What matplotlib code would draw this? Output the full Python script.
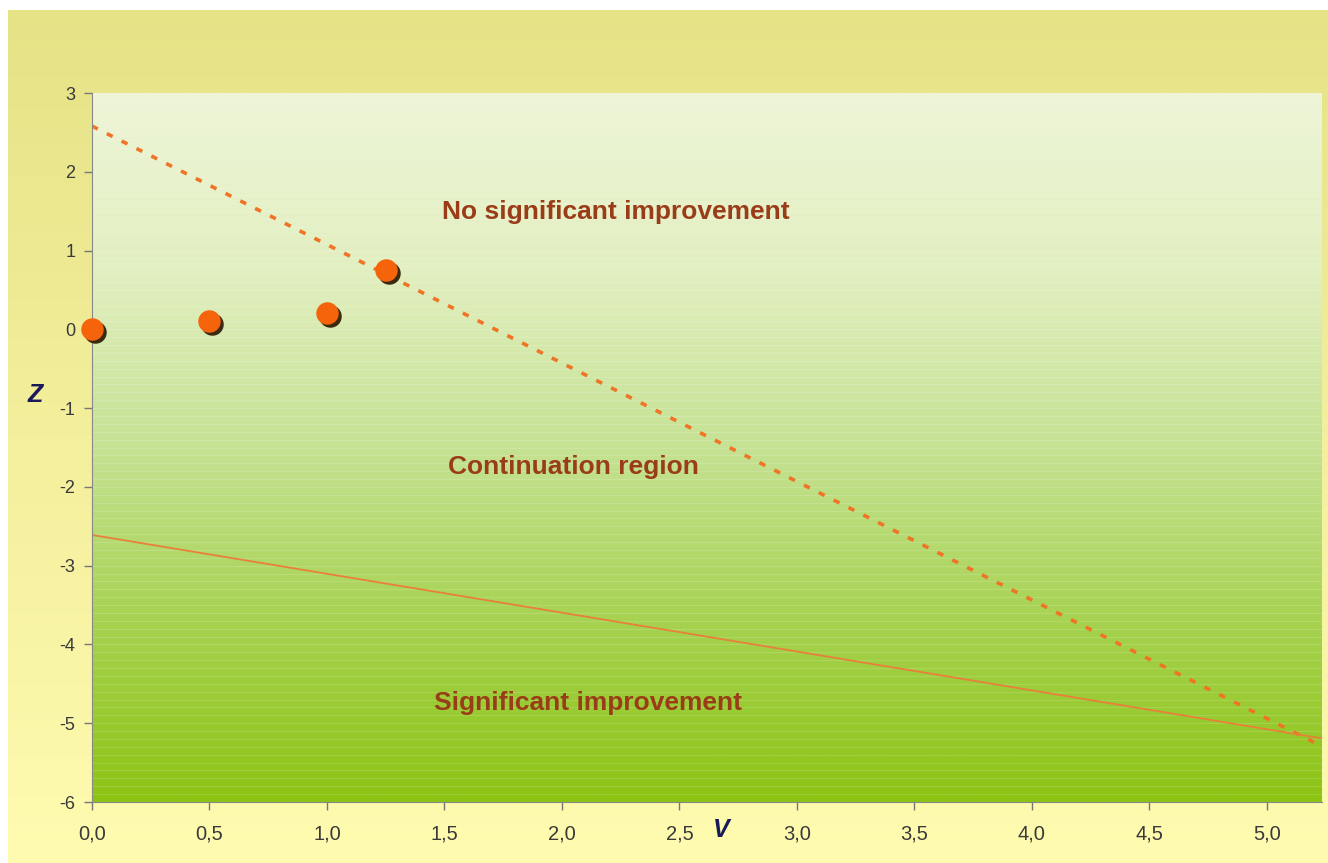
import numpy as np
import matplotlib.pyplot as plt
import matplotlib.transforms as mtransforms
from matplotlib.colors import LinearSegmentedColormap

# observed points
v_obs = [0.0, 0.5, 1.0, 1.25]
z_obs = [0.0, 0.11, 0.21, 0.75]

# upper boundary (dashed) and lower boundary (solid)
v_upper = [0.0, 5.22]
z_upper = [2.58, -5.27]
v_lower = [0.0, 5.23]
z_lower = [-2.61, -5.19]

x_ticks = [0.0, 0.5, 1.0, 1.5, 2.0, 2.5, 3.0, 3.5, 4.0, 4.5, 5.0]
y_ticks = [3, 2, 1, 0, -1, -2, -3, -4, -5, -6]

regions = ["No significant improvement", "Continuation region", "Significant improvement"]
region_v = [2.23, 2.05, 2.11]
region_z = [1.49, -1.75, -4.74]

plt.rcParams['font.family'] = ['Liberation Sans', 'DejaVu Sans']
plt.rcParams['axes.unicode_minus'] = False

fig = plt.figure(figsize=(13.28, 8.63), dpi=100)
fig.patch.set_facecolor('white')

# yellow backdrop for the whole slide
bg = fig.add_axes([8 / 1328, 0, 1, 1 - 10 / 863], zorder=-2)
bg_cmap = LinearSegmentedColormap.from_list('bg', ['#e6e286', '#f3ef9c', '#fffbb0'])
bg.imshow(np.linspace(0, 1, 256).reshape(-1, 1), aspect='auto', cmap=bg_cmap,
          extent=[0, 1, 0, 1], origin='upper')
bg.axis('off')

ax = fig.add_axes([92 / 1328, 1 - 802 / 863, (1322 - 92) / 1328, (802 - 93) / 863])
ax.set_xlim(0, 5.235)
ax.set_ylim(-6, 3)

# green gradient plot area with faint stripes
grad = np.linspace(0, 1, 400).reshape(-1, 1)
plot_cmap = LinearSegmentedColormap.from_list(
    'plot', [(0, '#eef5d8'), (0.25, '#e2efc0'), (0.5, '#c6e294'), (0.75, '#a6d250'), (1, '#8cc414')])
ax.imshow(grad, aspect='auto', cmap=plot_cmap, extent=[0, 5.235, -6, 3],
          origin='upper', zorder=0)
for yy in np.arange(-6, 3, 0.1):
    ax.axhline(yy, color='white', lw=0.6, alpha=0.18, zorder=0.5)

ax.plot(v_upper, z_upper, color='#f07426', lw=2.6, linestyle=(0, (1.8, 2.8)), zorder=2)
ax.plot(v_lower, z_lower, color='#e8803a', lw=1.3, zorder=2)

shadow = ax.transData + mtransforms.ScaledTranslation(3 / 100, -3 / 100, fig.dpi_scale_trans)
ax.scatter(v_obs, z_obs, s=230, color='#3a2a12', transform=shadow, zorder=3, clip_on=False)
ax.scatter(v_obs, z_obs, s=230, color='#f5640a', zorder=4, clip_on=False)

for txt, xv, zv in zip(regions, region_v, region_z):
    ax.text(xv, zv, txt, color='#9a3c18', fontsize=19, fontweight='bold',
            ha='center', va='center', zorder=5)

ax.set_xticks(x_ticks)
ax.set_xticklabels([f"{t:.1f}".replace('.', ',') for t in x_ticks])
ax.set_yticks(y_ticks)
ax.tick_params(colors='#777777', labelcolor='#3a3a3a', length=6, width=1)
ax.tick_params(axis='x', labelsize=14.5, pad=10)
ax.tick_params(axis='y', labelsize=13, pad=6)
for s in ['top', 'right']:
    ax.spines[s].set_visible(False)
for s in ['left', 'bottom']:
    ax.spines[s].set_color('#888888')

fig.text(35 / 1328, 1 - 395 / 863, 'Z', color='#1a1a5a', fontsize=18,
         fontweight='bold', fontstyle='italic', ha='center', va='center')
fig.text(721 / 1328, 1 - 830 / 863, 'V', color='#1a1a5a', fontsize=18,
         fontweight='bold', fontstyle='italic', ha='center', va='center')

fig.savefig('out.png', dpi=100, facecolor=fig.get_facecolor())
